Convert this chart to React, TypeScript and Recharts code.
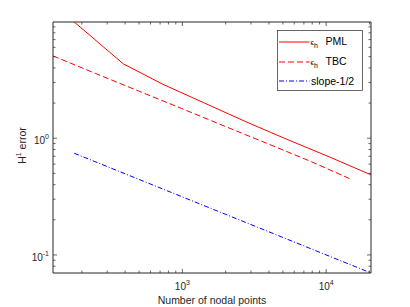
import { LineChart, Line, XAxis, YAxis, Legend } from 'recharts';

// error curves
const pmlNodes = [177, 389, 731, 1425, 2780, 5420, 10570, 20500];
const pmlError = [9.9, 4.33, 2.9, 2.0, 1.38, 0.97, 0.69, 0.485];
const tbcNodes = [126, 250, 495, 985, 1960, 3900, 7750, 15200];
const tbcError = [5.07, 3.58, 2.54, 1.8, 1.27, 0.9, 0.635, 0.44];
const refNodes = [177, 20500];
const refError = [0.743, 0.07];

const xTicks = [200, 300, 400, 500, 600, 700, 800, 900, 1000, 2000, 3000, 4000, 5000, 6000, 7000, 8000, 9000, 10000, 20000];
const yTicks = [0.08, 0.09, 0.1, 0.2, 0.3, 0.4, 0.5, 0.6, 0.7, 0.8, 0.9, 1, 2, 3, 4, 5, 6, 7, 8, 9];

const toPoints = (xs: number[], ys: number[]) => xs.map((x, i) => ({ x, y: ys[i] }));
const pml = toPoints(pmlNodes, pmlError);
const tbc = toPoints(tbcNodes, tbcError);
const ref = toPoints(refNodes, refError);

const AXIS = '#262626';
const FONT = '"Liberation Sans", Arial, Helvetica, sans-serif';

const legendRows = [
  { name: 'PML', eps: true, color: '#ff0000', dash: '', cy: 12 },
  { name: 'TBC', eps: true, color: '#ff0000', dash: '6 3', cy: 32 },
  { name: 'slope-1/2', eps: false, color: '#0000ff', dash: '5 2 1 2', cy: 51 },
];

const LogTick = (props: any) => {
  const { x, y, payload, side } = props;
  const v = payload.value;
  const e = Math.round(Math.log10(v));
  const major = Math.abs(Math.log10(v) - e) < 1e-6;
  const len = major ? 4 : 2.5;
  let line;
  if (side === 'bottom') line = { x1: x, y1: y, x2: x, y2: y - len };
  else if (side === 'top') line = { x1: x, y1: y, x2: x, y2: y + len };
  else if (side === 'left') line = { x1: x, y1: y, x2: x + len, y2: y };
  else line = { x1: x, y1: y, x2: x - len, y2: y };
  return (
    <g>
      <line {...line} stroke={AXIS} strokeWidth={0.7} />
      {major && side === 'bottom' && (
        <text x={x} y={y + 17} textAnchor="middle" fill={AXIS} fontSize={10} fontFamily={FONT}>
          10<tspan dy={-5} fontSize={7}>{e}</tspan>
        </text>
      )}
      {major && side === 'left' && (
        <text x={x - 4} y={y + 6} textAnchor="end" fill={AXIS} fontSize={10} fontFamily={FONT}>
          10<tspan dy={-5} fontSize={7}>{e}</tspan>
        </text>
      )}
    </g>
  );
};

const renderLegend = () => (
  <svg width={86} height={61} style={{ display: 'block' }}>
    <rect x={0.5} y={0.5} width={85} height={60} fill="#fff" stroke={AXIS} strokeWidth={0.7} />
    {legendRows.map((r) => (
      <g key={r.name}>
        <path
          d={`M2,${r.cy}H32.5`}
          fill="none"
          stroke={r.color}
          strokeWidth={1}
          strokeDasharray={r.dash || 'none'}
        />
        {r.eps ? (
          <text x={33.5} y={r.cy + 3} fill="#000" fontFamily={FONT}>
            <tspan fontSize={8}>ϵ</tspan>
            <tspan fontSize={7} dy={3}>h</tspan>
            <tspan x={48.5} dy={-3} fontSize={10.5}>{r.name}</tspan>
          </text>
        ) : (
          <text x={34} y={r.cy + 4} fill="#000" fontSize={10.5} fontFamily={FONT}>{r.name}</text>
        )}
      </g>
    ))}
  </svg>
);

const xAxisCommon = {
  dataKey: 'x',
  type: 'number' as const,
  scale: 'log' as const,
  domain: [126, 20500],
  allowDataOverflow: true,
  ticks: xTicks,
  interval: 0,
  height: 1,
  tickSize: 0,
  tickMargin: 0,
  axisLine: { stroke: AXIS, strokeWidth: 1 },
  tickLine: false,
};

const yAxisCommon = {
  dataKey: 'y',
  type: 'number' as const,
  scale: 'log' as const,
  domain: [0.07, 9.9],
  allowDataOverflow: true,
  ticks: yTicks,
  interval: 0,
  width: 1,
  tickSize: 0,
  tickMargin: 0,
  axisLine: { stroke: AXIS, strokeWidth: 1 },
  tickLine: false,
};

const App = () => {
  return (
    <div style={{ position: 'absolute', left: 0, top: 0, width: 410, height: 307, background: '#fff' }}>
      <LineChart width={410} height={307} margin={{ top: 21, right: 38, bottom: 33, left: 52 }}>
        <XAxis
          {...xAxisCommon}
          tick={(p: any) => <LogTick {...p} side="bottom" />}
          label={(p: any) => {
            const vb = p.viewBox || { x: 53, y: 273, width: 318 };
            return (
              <text x={vb.x + vb.width / 2} y={vb.y + 31} textAnchor="middle" fill={AXIS} fontSize={10.5} fontFamily={FONT}>
                Number of nodal points
              </text>
            );
          }}
        />
        <XAxis {...xAxisCommon} xAxisId="top" orientation="top" tick={(p: any) => <LogTick {...p} side="top" />} />
        <YAxis
          {...yAxisCommon}
          tick={(p: any) => <LogTick {...p} side="left" />}
          label={(p: any) => {
            const vb = p.viewBox || { x: 52, y: 22, width: 1, height: 251 };
            const cx = vb.x - 26.5;
            const cy = vb.y + vb.height / 2 - 2;
            return (
              <text x={cx} y={cy} transform={`rotate(-90 ${cx} ${cy})`} textAnchor="middle" fill={AXIS} fontSize={10.5} fontFamily={FONT}>
                H<tspan dy={-5} fontSize={7}>1</tspan>
                <tspan dy={5}> error</tspan>
              </text>
            );
          }}
        />
        <YAxis {...yAxisCommon} yAxisId="right" orientation="right" tick={(p: any) => <LogTick {...p} side="right" />} />
        <Legend
          layout="vertical"
          align="center"
          verticalAlign="middle"
          content={renderLegend}
          wrapperStyle={{ left: 277, top: 30, width: 86, height: 61 }}
        />
        <Line data={pml} dataKey="y" name="PML" stroke="#ff0000" strokeWidth={1} dot={false} isAnimationActive={false} />
        <Line data={tbc} dataKey="y" name="TBC" stroke="#ff0000" strokeWidth={1} strokeDasharray="6 3" dot={false} isAnimationActive={false} />
        <Line data={ref} dataKey="y" name="slope-1/2" stroke="#0000ff" strokeWidth={1} strokeDasharray="5 2 1 2" dot={false} isAnimationActive={false} />
      </LineChart>
    </div>
  );
};

export default App;
